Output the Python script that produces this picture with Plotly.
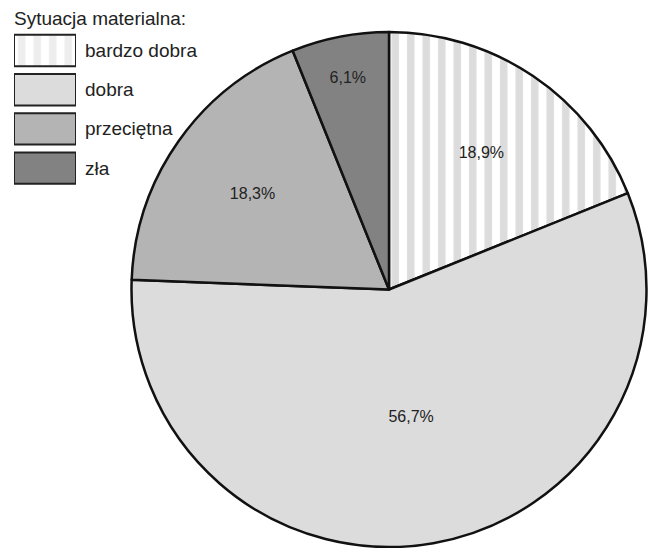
import plotly.graph_objects as go

# Data
categories = ["bardzo dobra", "dobra", "przeciętna", "zła"]
shares = [18.9, 56.7, 18.3, 6.1]
legend_title = "Sytuacja materialna:"

# Styling
fills = ["#ffffff", "#dcdcdc", "#b4b4b4", "#828282"]
pattern_shapes = ["|", "", "", ""]
font_family = "Liberation Sans, Arial, sans-serif"
stripe = dict(fgcolor="#dcdcdc", bgcolor="#ffffff", size=15.5, solidity=0.48)

W, H = 652, 548
labels_text = [f"{v:.1f}".replace(".", ",") + "%" for v in shares]

fig = go.Figure()

fig.add_trace(go.Pie(
    labels=categories,
    values=shares,
    text=labels_text,
    textinfo="text",
    textposition="inside",
    insidetextorientation="horizontal",
    textfont=dict(family=font_family, size=16, color="#222222"),
    sort=False,
    direction="clockwise",
    rotation=0,
    marker=dict(
        colors=fills,
        line=dict(color="#111111", width=2.5),
        pattern=dict(shape=pattern_shapes, **stripe),
    ),
    domain=dict(x=[131 / W, 647 / W], y=[1 - 547 / H, 1 - 32 / H]),
    showlegend=False,
    hoverinfo="label+percent",
))

# Legend swatches drawn as equal-length bars, one trace per category
for i, (name, col, shp) in enumerate(zip(categories, fills, pattern_shapes)):
    pat = dict(shape=shp, **stripe) if shp else dict(shape="")
    fig.add_trace(go.Bar(
        x=[1],
        y=[i],
        orientation="h",
        width=0.8,
        marker=dict(
            color=col,
            line=dict(color="#222222", width=2),
            pattern=pat,
        ),
        showlegend=False,
        hoverinfo="skip",
        xaxis="x",
        yaxis="y",
    ))

row_top, row_bottom = 30.9, 187.7
fig.update_layout(
    width=W,
    height=H,
    margin=dict(l=0, r=0, t=0, b=0),
    paper_bgcolor="white",
    plot_bgcolor="rgba(0,0,0,0)",
    barmode="overlay",
    xaxis=dict(domain=[14 / W, 76 / W], range=[0, 1], visible=False, fixedrange=True),
    yaxis=dict(domain=[1 - row_bottom / H, 1 - row_top / H], range=[3.5, -0.5],
               visible=False, fixedrange=True),
    font=dict(family=font_family, color="#222222"),
)

for i, name in enumerate(categories):
    fig.add_annotation(
        x=83 / W, xref="paper", y=i, yref="y",
        text=name, showarrow=False, xanchor="left", yanchor="middle",
        font=dict(family=font_family, size=19, color="#222222"),
    )

fig.add_annotation(
    x=12 / W, xref="paper", y=1 - 19 / H, yref="paper",
    text=legend_title, showarrow=False, xanchor="left", yanchor="middle",
    font=dict(family=font_family, size=19, color="#222222"),
)

fig.write_html("out.html")
